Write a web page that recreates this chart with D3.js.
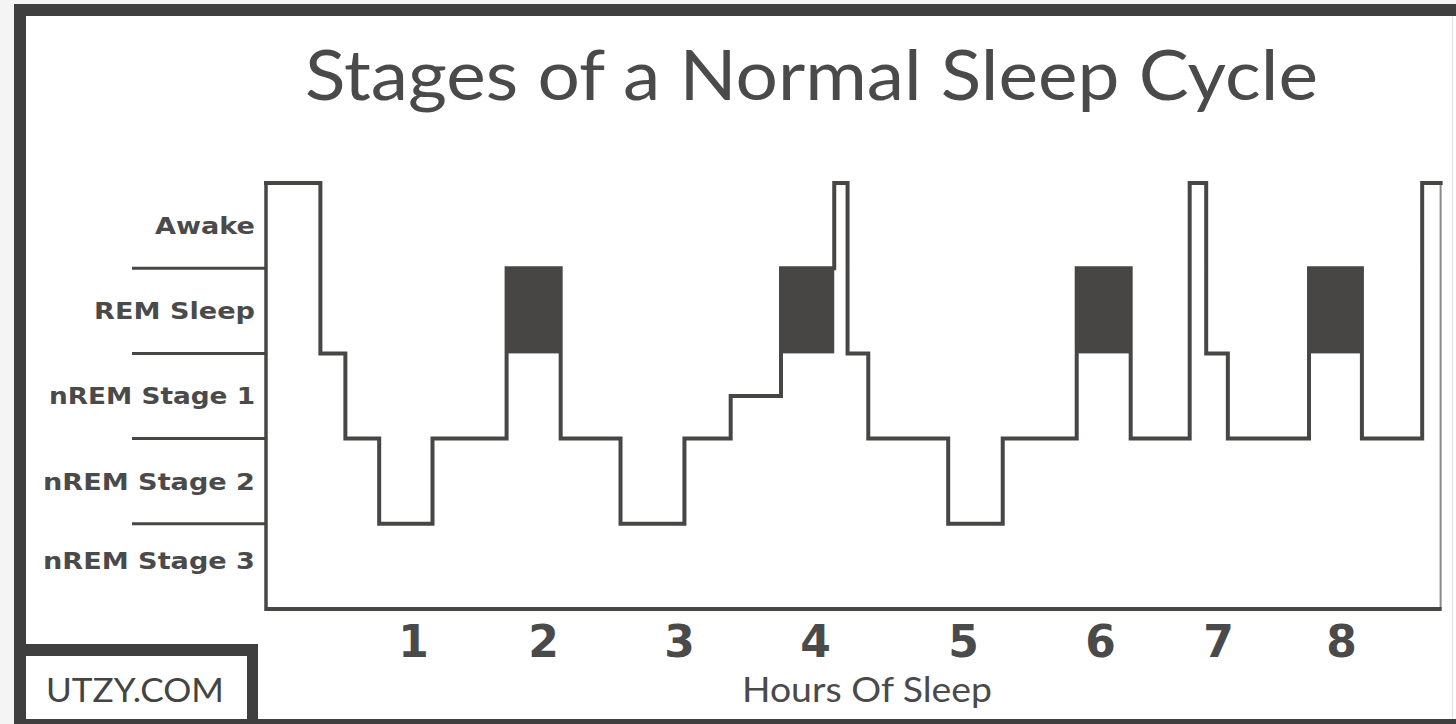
<!DOCTYPE html>
<html>
<head>
<meta charset="utf-8">
<script src="https://cdn.jsdelivr.net/npm/d3@7"></script>
<style>
  body { margin: 0; background: #f4f4f4; }
  svg { display: block; }
</style>
</head>
<body>
<script>
// sleep stages, top to bottom
var stages = ["Awake", "REM Sleep", "nREM Stage 1", "nREM Stage 2", "nREM Stage 3"];

// hypnogram: time (hours) where each step starts, and its level (0 = Awake ... 4 = Stage 3)
var stepHours  = [0, 0.37, 0.54, 0.77, 1.15, 1.72, 2.13, 2.57, 3.04, 3.38, 3.75, 4.13, 4.22, 4.36, 4.9, 5.29, 5.83, 6.26, 6.76, 6.9, 7.08, 7.74, 8.17, 8.66, 8.81];
var stepLevels = [0, 2, 3, 4, 3, 1, 3, 4, 3, 2.5, 1, 0, 2, 3, 4, 3, 1, 3, 0, 2, 3, 1, 3, 0, 0];

var hourTicks = [1, 2, 3, 4, 5, 6, 7, 8];

var titleText = "Stages of a Normal Sleep Cycle",
    xTitle = "Hours Of Sleep",
    brand = "UTZY.COM";

var width = 1456,
    height = 724,
    ink = "#484545";

var data = stepHours.map(function(h, i) { return {h: h, lvl: stepLevels[i]}; });

// the drawn hour axis is hand spaced, so the scale is piecewise
var x = d3.scaleLinear()
    .domain([0, 1, 2, 3, 4, 5, 6, 7, 8])
    .range([266, 413, 543, 679, 815, 963, 1100, 1218, 1341]);

var y = d3.scaleLinear()
    .domain([0, stages.length])
    .range([183, 609]);

var svg = d3.select("body").append("svg")
    .attr("width", width)
    .attr("height", height);

// frame
svg.append("rect").attr("x", 14).attr("y", 4).attr("width", width).attr("height", height)
    .attr("fill", "#3f3f3f");
svg.append("rect").attr("x", 26).attr("y", 16).attr("width", width).attr("height", 703)
    .attr("fill", "#ffffff");
svg.append("line").attr("x1", 1452.5).attr("x2", 1452.5).attr("y1", 16).attr("y2", 719)
    .attr("stroke", "#e2e2e2").attr("stroke-width", 1);

// brand box bottom left
svg.append("rect").attr("x", 26).attr("y", 644).attr("width", 232).attr("height", 80)
    .attr("fill", "#3f3f3f");
svg.append("rect").attr("x", 26).attr("y", 656).attr("width", 221).attr("height", 63)
    .attr("fill", "#ffffff");
svg.append("text")
    .attr("x", 46).attr("y", 702)
    .attr("font-family", "Lato, 'Open Sans', sans-serif")
    .attr("font-size", 33)
    .attr("fill", "#444")
    .attr("textLength", 178).attr("lengthAdjust", "spacingAndGlyphs")
    .text(brand);

// title
svg.append("text")
    .attr("x", 305).attr("y", 100)
    .attr("font-family", "Lato, 'Open Sans', sans-serif")
    .attr("font-size", 69)
    .attr("fill", "#4a4a4a")
    .attr("textLength", 1013).attr("lengthAdjust", "spacingAndGlyphs")
    .text(titleText);

var g = svg.append("g");

// stage labels and separators
var labelWidths = {"Awake": 100, "REM Sleep": 161, "nREM Stage 1": 206, "nREM Stage 2": 212, "nREM Stage 3": 212};

g.selectAll(".sep")
  .data(d3.range(1, stages.length))
  .enter().append("line")
    .attr("class", "sep")
    .attr("x1", 132).attr("x2", x(0))
    .attr("y1", function(d) { return y(d); })
    .attr("y2", function(d) { return y(d); })
    .attr("stroke", ink).attr("stroke-width", 3);

g.selectAll(".stage")
  .data(stages)
  .enter().append("text")
    .attr("class", "stage")
    .attr("x", 255)
    .attr("y", function(d, i) { return y(i) + (i == 4 ? 45 : 51); })
    .attr("text-anchor", "end")
    .attr("font-family", "'DejaVu Sans', sans-serif")
    .attr("font-weight", "bold")
    .attr("font-size", 23)
    .attr("fill", "#4a4a4a")
    .attr("textLength", function(d) { return labelWidths[d]; })
    .attr("lengthAdjust", "spacingAndGlyphs")
    .text(function(d) { return d; });

// REM blocks
var rem = data.filter(function(d, i) { return d.lvl === 1 && i < data.length - 1; })
    .map(function(d) { var i = data.indexOf(d); return {h0: d.h, h1: data[i + 1].h}; });

g.selectAll(".rem")
  .data(rem)
  .enter().append("rect")
    .attr("class", "rem")
    .attr("x", function(d) { return x(d.h0); })
    .attr("width", function(d) { return x(d.h1) - x(d.h0); })
    .attr("y", y(1))
    .attr("height", y(2) - y(1))
    .attr("fill", ink);

// final drop back to the axis on the right
var last = data[data.length - 1];
g.append("line")
    .attr("x1", x(last.h)).attr("x2", x(last.h))
    .attr("y1", y(last.lvl)).attr("y2", y(stages.length))
    .attr("stroke", "#8a8a8a").attr("stroke-width", 2);

// hypnogram
var line = d3.line()
    .x(function(d) { return x(d.h); })
    .y(function(d) { return y(d.lvl); })
    .curve(d3.curveStepAfter);

g.append("path")
    .datum(data)
    .attr("d", line)
    .attr("fill", "none")
    .attr("stroke", ink)
    .attr("stroke-width", 4)
    .attr("stroke-linejoin", "miter")
    .attr("stroke-linecap", "square");

// axes lines
g.append("line")
    .attr("x1", x(0)).attr("x2", x(0))
    .attr("y1", y(0)).attr("y2", y(stages.length) + 2)
    .attr("stroke", ink).attr("stroke-width", 3.5);
g.append("line")
    .attr("x1", x(0)).attr("x2", x(last.h) + 1)
    .attr("y1", y(stages.length)).attr("y2", y(stages.length))
    .attr("stroke", ink).attr("stroke-width", 4);

// hour ticks
var xAxis = d3.axisBottom(x).tickValues(hourTicks).tickSize(0).tickFormat(d3.format("d"));
var ax = g.append("g")
    .attr("transform", "translate(0," + y(stages.length) + ")")
    .call(xAxis);
ax.select(".domain").remove();
ax.selectAll("text")
    .attr("y", 48).attr("dy", null)
    .attr("font-family", "'DejaVu Sans', sans-serif")
    .attr("font-weight", "bold")
    .attr("font-size", 44)
    .attr("fill", "#4a4a4a");

g.append("text")
    .attr("x", 742).attr("y", 702)
    .attr("font-family", "Lato, 'Open Sans', sans-serif")
    .attr("font-size", 34)
    .attr("fill", "#4a4a4a")
    .attr("textLength", 250).attr("lengthAdjust", "spacingAndGlyphs")
    .text(xTitle);
</script>
</body>
</html>
